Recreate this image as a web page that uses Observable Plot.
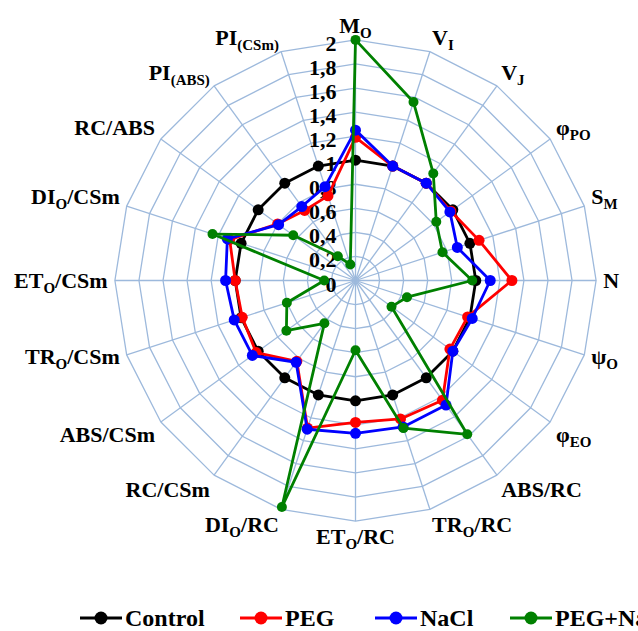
<!DOCTYPE html>
<html><head><meta charset="utf-8">
<script src="https://cdn.jsdelivr.net/npm/d3@7"></script>
<script src="https://cdn.jsdelivr.net/npm/@observablehq/plot@0.6"></script>
<style>
html,body{margin:0;padding:0;background:#fff;overflow:hidden;width:638px;height:631px;}
#legend{position:relative;width:638px;height:51px;overflow:hidden;font:bold 24px "Liberation Serif",serif;white-space:nowrap;}
.item{position:absolute;top:25px;height:26px;display:flex;align-items:center;}
.item span{margin-left:3px;line-height:26px;}
</style></head><body>
<div id="chart"></div><div id="legend"></div>
<script>
const categories = ["M|O","V|I","V|J","φ|PO","S|M","N","ψ|O","φ|EO","ABS/RC","TR|O|/RC","ET|O|/RC","DI|O|/RC","RC/CSm","ABS/CSm","TR|O|/CSm","ET|O|/CSm","DI|O|/CSm","RC/ABS","PI|(ABS)","PI|(CSm)"];
const seriesNames = ["Control","PEG","NaCl","PEG+NaCl"];
const control = [1,1,1,1,1,1,1,1,1,1,1,1,1,1,1,1,1,1,1,1];
const peg     = [1.19,1.0,1.0,0.98,1.08,1.3,0.98,0.97,1.23,1.21,1.18,1.29,0.83,1.02,0.99,1.0,1.1,0.8,0.72,0.74];
const nacl    = [1.25,1.0,1.0,0.97,0.89,1.12,1.02,1.0,1.28,1.28,1.27,1.3,0.84,1.06,1.06,1.08,1.12,0.79,0.76,0.82];
const pegNacl = [2.0,1.56,1.1,0.83,0.76,0.97,0.45,0.37,1.58,1.29,0.58,1.98,0.44,0.71,0.6,0.26,1.25,0.64,0.25,0.14];
const tickValues = [0,0.2,0.4,0.6,0.8,1,1.2,1.4,1.6,1.8,2];
const tickLabels = ["0","0,2","0,4","0,6","0,8","1","1,2","1,4","1,6","1,8","2"];
const colors = ["#000000","#ff0000","#0000ff","#008000"];

const seriesValues = [control, peg, nacl, pegNacl];
const W = 638, H = 580, cx = 355, cy = 280, unit = 120.3;
const gridColor = "#9db9dc";
const n = categories.length;
const ang = i => i * 2 * Math.PI / n;
const px = (r, i) => r * Math.sin(ang(i));
const py = (r, i) => r * Math.cos(ang(i));
const maxR = tickValues[tickValues.length - 1];

const ringRows = [];
tickValues.filter(t => t > 0).forEach(t => {
  for (let i = 0; i <= n; i++) ringRows.push({ring: t, x: px(t, i % n), y: py(t, i % n)});
});
const spokes = categories.map((c, i) => ({x1: 0, y1: 0, x2: px(maxR, i), y2: py(maxR, i)}));

const labelR = 2.06;
const labels = categories.map((c, i) => {
  const s = Math.sin(ang(i)), co = Math.cos(ang(i));
  return {label: c, x: px(labelR, i), y: py(labelR, i),
    ta: Math.abs(s) < 0.2 ? "middle" : s > 0 ? "start" : "end",
    la: co > 0.25 ? "bottom" : co < -0.4 ? "top" : "middle"};
});

const marks = [
  Plot.line(ringRows, {x: "x", y: "y", z: "ring", stroke: gridColor, strokeWidth: 1.3}),
  Plot.link(spokes, {x1: "x1", y1: "y1", x2: "x2", y2: "y2", stroke: gridColor, strokeWidth: 1.3}),
  Plot.text(tickValues, {x: () => 0, y: d => d, text: (d, i) => tickLabels[i], textAnchor: "end",
    dx: -19, dy: 4, fontSize: 22, fontWeight: "bold", fill: "black"})
];
seriesValues.forEach((vals, s) => {
  const rows = [];
  for (let i = 0; i <= n; i++) rows.push({x: px(vals[i % n], i % n), y: py(vals[i % n], i % n)});
  marks.push(Plot.line(rows, {x: "x", y: "y", stroke: colors[s], strokeWidth: 2.8}));
  marks.push(Plot.dot(rows.slice(0, n), {x: "x", y: "y", r: s === 3 ? 5 : 5.5, fill: colors[s], stroke: "none"}));
});
for (const ta of ["start","middle","end"]) for (const la of ["top","middle","bottom"]) {
  const sub = labels.filter(d => d.ta === ta && d.la === la);
  if (sub.length) marks.push(Plot.text(sub, {x: "x", y: "y", text: "label", textAnchor: ta, lineAnchor: la,
    fontSize: 22, fontWeight: "bold", fill: "black"}));
}

const chart = Plot.plot({
  width: W, height: H, margin: 0,
  x: {domain: [-cx / unit, (W - cx) / unit], range: [0, W], axis: null},
  y: {domain: [cy / unit, -(H - cy) / unit], range: [0, H], axis: null},
  style: {fontFamily: '"Liberation Serif", "Times New Roman", serif', background: "#fff", overflow: "visible"},
  marks
});
d3.select(chart).selectAll("text").each(function () {
  const t = this.textContent;
  if (!t.includes("|")) return;
  const parts = t.split("|");
  this.textContent = "";
  parts.forEach((p, k) => {
    const ts = d3.select(this).append("tspan").text(p);
    if (k % 2 === 1) ts.attr("font-size", 15).attr("dy", 5);
    else if (k > 0) ts.attr("dy", -5);
  });
});
document.getElementById("chart").appendChild(chart);

const legendLeft = [80, 240, 375, 510];
const legend = d3.select("#legend");
seriesNames.forEach((name, s) => {
  const it = legend.append("div").attr("class", "item").style("left", legendLeft[s] + "px");
  const sv = it.append("svg").attr("width", 42).attr("height", 22);
  sv.append("line").attr("x1", 0).attr("x2", 42).attr("y1", 11).attr("y2", 11).attr("stroke", colors[s]).attr("stroke-width", 3.2);
  sv.append("circle").attr("cx", 21).attr("cy", 11).attr("r", 6.5).attr("fill", colors[s]);
  it.append("span").text(name);
});
</script></body></html>
